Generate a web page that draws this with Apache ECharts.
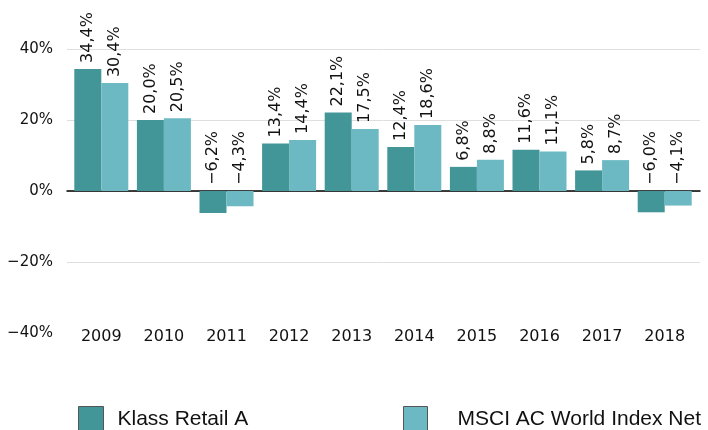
<!DOCTYPE html>
<html>
<head>
<meta charset="utf-8">
<script src="https://cdn.jsdelivr.net/npm/echarts@6/dist/echarts.min.js"></script>
<style>
html,body{margin:0;padding:0;background:#fff;}
#chart{width:708px;height:430px;}
</style>
</head>
<body>
<div id="chart"></div>
<script>
var years = ['2009','2010','2011','2012','2013','2014','2015','2016','2017','2018'];
var klassRetailA = [34.4, 20.0, -6.2, 13.4, 22.1, 12.4, 6.8, 11.6, 5.8, -6.0];
var msciACWI = [30.4, 20.5, -4.3, 14.4, 17.5, 18.6, 8.8, 11.1, 8.7, -4.1];
var yTicks = [-40, -20, 0, 20, 40];
var seriesNames = ['Klass Retail A', 'MSCI AC World Index Net'];

var MINUS = '\u2212';
function fmtPct(v) {
  var s = Math.abs(v).toFixed(1).replace('.', ',');
  return (v < 0 ? MINUS : '') + s + '%';
}
function fmtAxis(v) {
  return (v < 0 ? MINUS : '') + Math.abs(v) + '%';
}

var FONT = 'DejaVu Sans';
var chart = echarts.init(document.getElementById('chart'));
var labelOpt = {
  show: true,
  position: 'top',
  rotate: 90,
  align: 'left',
  verticalAlign: 'middle',
  distance: 6,
  fontFamily: FONT,
  fontSize: 16,
  color: '#111',
  formatter: function (p) { return fmtPct(p.value); }
};
chart.setOption({
  animation: false,
  backgroundColor: '#fff',
  grid: [
    { left: 67, right: 8, top: 49, bottom: 97 },
    { left: 70, right: 12, top: 49, bottom: 97 }
  ],
  xAxis: [
    { gridIndex: 0, type: 'value', min: 0, max: 1, show: true,
      axisLabel: { show: false }, axisTick: { show: false }, splitLine: { show: false },
      axisLine: { show: true, onZero: true, lineStyle: { color: '#000', width: 1.5 } } },
    { gridIndex: 1, type: 'category', data: years,
      axisLine: { show: false, onZero: false }, axisTick: { show: false },
      axisLabel: { margin: -4, fontFamily: FONT, fontSize: 16, color: '#111' } }
  ],
  yAxis: [
    { gridIndex: 0, type: 'value', min: yTicks[0], max: yTicks[yTicks.length - 1], interval: 20,
      axisLine: { show: false }, axisTick: { show: false },
      axisLabel: { margin: 14, fontFamily: FONT, fontSize: 15, color: '#111',
        formatter: fmtAxis },
      splitLine: { show: true, lineStyle: { color: ['rgba(0,0,0,0)', '#dedede', '#dedede', '#dedede', '#dedede'], width: 1 } } },
    { gridIndex: 1, type: 'value', min: yTicks[0], max: yTicks[yTicks.length - 1], interval: 20, show: false }
  ],
  legend: [
    { data: [seriesNames[0]], left: 78, top: 406, padding: 0, itemWidth: 25, itemHeight: 26,
      icon: 'rect',
      itemStyle: { borderColor: '#555', borderWidth: 1 },
      textStyle: { fontFamily: 'Liberation Sans', fontSize: 21, color: '#111', padding: [4, 0, 0, 9] } },
    { data: [seriesNames[1]], left: 403, top: 406, padding: 0, itemWidth: 24, itemHeight: 26,
      icon: 'rect',
      itemStyle: { borderColor: '#555', borderWidth: 1 },
      textStyle: { fontFamily: 'Liberation Sans', fontSize: 21, color: '#111', padding: [4, 0, 0, 25] } }
  ],
  series: [
    { name: seriesNames[0], type: 'bar', xAxisIndex: 1, yAxisIndex: 1, data: klassRetailA,
      barWidth: 27, barGap: '0%', itemStyle: { color: '#429697' }, label: labelOpt, z: 3 },
    { name: seriesNames[1], type: 'bar', xAxisIndex: 1, yAxisIndex: 1, data: msciACWI,
      barWidth: 27, barGap: '0%', itemStyle: { color: '#6cb9c3' }, label: labelOpt, z: 3 }
  ]
});
</script>
</body>
</html>
